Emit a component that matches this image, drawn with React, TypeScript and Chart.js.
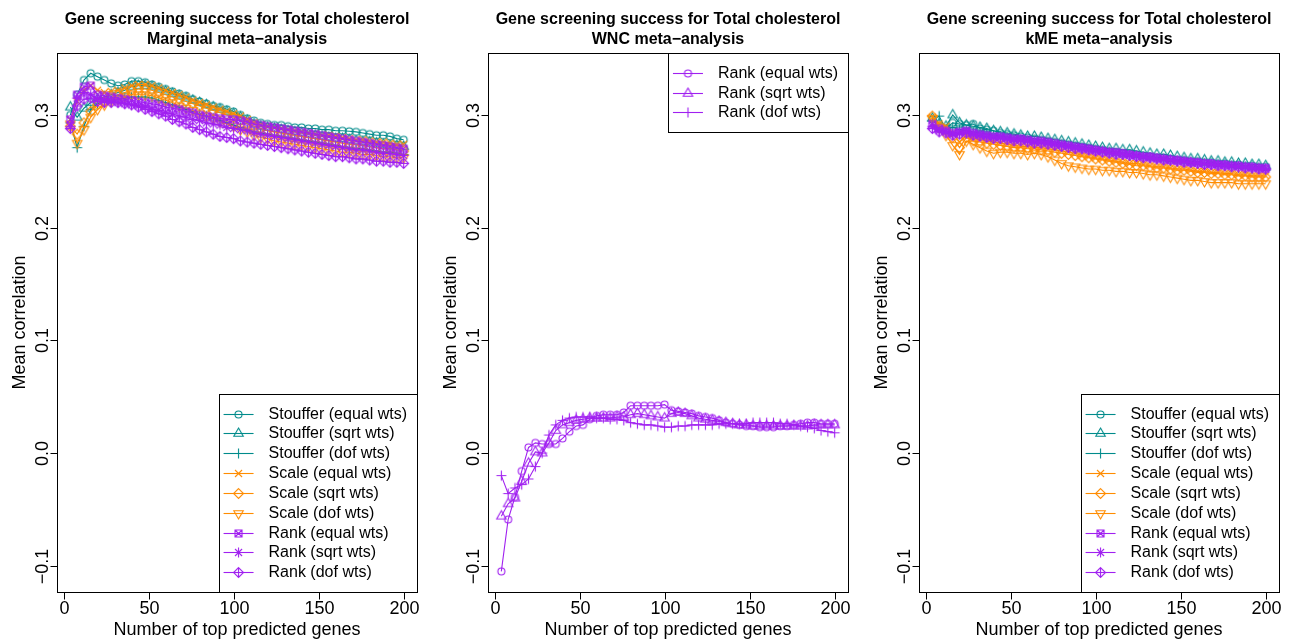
import React, { useEffect, useRef } from "react";
import { Chart, registerables } from "chart.js";
Chart.register(...registerables);

const W = 1309;
const H = 642;
const FONT = '"Liberation Sans", Arial, Helvetica, sans-serif';

// ---------- data ----------
const xValues = [4, 8, 12, 16, 20, 24, 28, 32, 36, 40, 44, 48, 52, 56, 60, 64, 68, 72, 76, 80, 84, 88, 92, 96, 100, 104, 108, 112, 116, 120, 124, 128, 132, 136, 140, 144, 148, 152, 156, 160, 164, 168, 172, 176, 180, 184, 188, 192, 196, 200];
const xTicks = [0, 50, 100, 150, 200];
const yTicks = [-0.1, 0, 0.1, 0.2, 0.3];
const yTickLabels = ["\u22120.1", "0.0", "0.1", "0.2", "0.3"];
const mainTitle = "Gene screening success for Total cholesterol";
const subTitles = ["Marginal meta\u2212analysis", "WNC meta\u2212analysis", "kME meta\u2212analysis"];
const xAxisTitle = "Number of top predicted genes";
const yAxisTitle = "Mean correlation";
const seriesLabels = ["Stouffer (equal wts)", "Stouffer (sqrt wts)", "Stouffer (dof wts)", "Scale (equal wts)", "Scale (sqrt wts)", "Scale (dof wts)", "Rank (equal wts)", "Rank (sqrt wts)", "Rank (dof wts)"];
const seriesShapes = ["circle", "triUp", "plus", "cross", "diamond", "triDown", "squareX", "asterisk", "diamondPlus"];
const wncLabels = ["Rank (equal wts)", "Rank (sqrt wts)", "Rank (dof wts)"];
const wncShapes = ["circle", "triUp", "plus"];
const TEAL = "#008B8B";
const ORANGE = "#FF8C00";
const PURPLE = "#A020F0";
const seriesColors = [TEAL, TEAL, TEAL, ORANGE, ORANGE, ORANGE, PURPLE, PURPLE, PURPLE];
const wncColors = [PURPLE, PURPLE, PURPLE];

// Marginal
const margStoufferEqual = [0.300,0.318,0.331,0.337,0.334,0.331,0.328,0.326,0.327,0.330, 0.330,0.329,0.327,0.325,0.323,0.321,0.319,0.317,0.314,0.312, 0.310,0.308,0.307,0.305,0.303,0.300,0.297,0.295,0.293,0.292, 0.291,0.291,0.290,0.289,0.289,0.288,0.288,0.287,0.287,0.286, 0.286,0.2855,0.285,0.284,0.283,0.282,0.282,0.281,0.279,0.278];
const margStoufferSqrt = [0.307,0.298,0.306,0.311,0.314,0.316,0.318,0.320,0.322,0.325, 0.326,0.326,0.325,0.323,0.321,0.319,0.317,0.315,0.313,0.311, 0.309,0.307,0.305,0.303,0.301,0.298,0.295,0.292,0.290,0.289, 0.288,0.287,0.286,0.285,0.284,0.283,0.282,0.281,0.280,0.279, 0.279,0.278,0.277,0.276,0.276,0.275,0.274,0.273,0.273,0.272];
const margStoufferDof = [0.293,0.271,0.290,0.305,0.310,0.312,0.313,0.314,0.315,0.316, 0.316,0.316,0.315,0.313,0.311,0.309,0.307,0.305,0.303,0.301, 0.299,0.297,0.295,0.293,0.291,0.289,0.287,0.285,0.284,0.283, 0.282,0.281,0.280,0.279,0.278,0.277,0.276,0.275,0.274,0.273, 0.272,0.271,0.270,0.270,0.269,0.268,0.267,0.267,0.266,0.265];
const margScaleEqual = [0.296,0.312,0.322,0.326,0.322,0.320,0.321,0.322,0.324,0.326, 0.327,0.327,0.326,0.324,0.322,0.320,0.318,0.316,0.313,0.311, 0.309,0.307,0.305,0.303,0.301,0.299,0.296,0.293,0.291,0.290, 0.289,0.288,0.287,0.286,0.285,0.284,0.283,0.282,0.282,0.281, 0.280,0.279,0.278,0.278,0.277,0.276,0.276,0.275,0.274,0.274];
const margScaleSqrt = [0.290,0.283,0.293,0.303,0.309,0.312,0.315,0.318,0.320,0.322, 0.323,0.323,0.322,0.320,0.318,0.316,0.314,0.312,0.310,0.308, 0.306,0.304,0.302,0.300,0.298,0.295,0.292,0.290,0.288,0.286, 0.285,0.284,0.283,0.282,0.281,0.280,0.279,0.278,0.277,0.276, 0.275,0.274,0.274,0.273,0.272,0.271,0.270,0.270,0.269,0.268];
const margScaleDof = [0.292,0.275,0.287,0.298,0.305,0.309,0.312,0.314,0.316,0.318, 0.318,0.318,0.317,0.315,0.313,0.311,0.308,0.306,0.304,0.301, 0.299,0.297,0.294,0.292,0.290,0.287,0.285,0.282,0.280,0.279, 0.277,0.276,0.275,0.274,0.273,0.272,0.271,0.270,0.269,0.268, 0.267,0.267,0.266,0.265,0.265,0.264,0.263,0.263,0.262,0.262];
const margRankEqual = [0.296,0.318,0.325,0.326,0.318,0.317,0.316,0.315,0.314,0.313, 0.312,0.311,0.310,0.309,0.307,0.306,0.305,0.303,0.302,0.300, 0.299,0.298,0.297,0.296,0.296,0.295,0.294,0.292,0.291,0.290, 0.289,0.288,0.287,0.286,0.285,0.284,0.283,0.282,0.281,0.280, 0.279,0.278,0.277,0.276,0.275,0.274,0.273,0.272,0.271,0.270];
const margRankSqrt = [0.290,0.315,0.320,0.318,0.314,0.313,0.312,0.311,0.310,0.309, 0.308,0.307,0.305,0.304,0.302,0.301,0.299,0.298,0.296,0.295, 0.293,0.292,0.291,0.289,0.288,0.287,0.286,0.284,0.283,0.282, 0.281,0.280,0.279,0.278,0.277,0.276,0.275,0.274,0.273,0.272, 0.271,0.270,0.269,0.269,0.268,0.267,0.266,0.266,0.265,0.264];
const margRankDof = [0.288,0.308,0.314,0.315,0.312,0.311,0.311,0.311,0.310,0.309, 0.307,0.305,0.303,0.301,0.299,0.296,0.294,0.292,0.289,0.287, 0.285,0.283,0.281,0.280,0.279,0.277,0.276,0.275,0.274,0.273, 0.272,0.271,0.270,0.269,0.268,0.267,0.266,0.265,0.264,0.263, 0.263,0.262,0.261,0.261,0.260,0.259,0.259,0.258,0.258,0.257];

// WNC
const wncRankEqual = [-0.105,-0.059,-0.039,-0.016,0.005,0.009,0.008,0.008,0.008,0.013, 0.019,0.024,0.025,0.030,0.033,0.034,0.034,0.034,0.036,0.042, 0.042,0.042,0.042,0.042,0.043,0.038,0.037,0.036,0.035,0.033, 0.032,0.031,0.029,0.027,0.026,0.025,0.024,0.024,0.023,0.023, 0.023,0.024,0.024,0.025,0.026,0.027,0.027,0.026,0.026,0.026];
const wncRankSqrt = [-0.056,-0.045,-0.040,-0.025,-0.009,0.001,0.000,0.009,0.020,0.025, 0.027,0.029,0.030,0.031,0.031,0.031,0.031,0.032,0.032,0.034, 0.035,0.034,0.033,0.032,0.031,0.035,0.036,0.035,0.033,0.031, 0.030,0.029,0.028,0.027,0.026,0.025,0.025,0.024,0.024,0.024, 0.024,0.024,0.024,0.024,0.024,0.024,0.025,0.025,0.025,0.025];
const wncRankDof = [-0.020,-0.036,-0.031,-0.028,-0.023,-0.012,0.000,0.016,0.025,0.029, 0.031,0.032,0.032,0.032,0.031,0.031,0.030,0.030,0.029,0.027, 0.026,0.025,0.025,0.024,0.023,0.023,0.024,0.024,0.025,0.025, 0.025,0.025,0.026,0.026,0.026,0.026,0.026,0.027,0.027,0.027, 0.027,0.026,0.026,0.025,0.024,0.023,0.022,0.020,0.019,0.018];

// kME
const kmeStoufferEqual = [0.296,0.290,0.288,0.293,0.292,0.291,0.292,0.288,0.287,0.286, 0.284,0.283,0.282,0.281,0.280,0.279,0.278,0.277,0.276,0.275, 0.274,0.273,0.272,0.271,0.270,0.269,0.268,0.267,0.266,0.266, 0.265,0.264,0.263,0.262,0.262,0.261,0.260,0.260,0.259,0.259, 0.258,0.258,0.257,0.257,0.256,0.256,0.255,0.255,0.254,0.254];
const kmeStoufferSqrt = [0.297,0.292,0.290,0.300,0.293,0.291,0.290,0.289,0.288,0.286, 0.285,0.284,0.283,0.282,0.281,0.281,0.280,0.279,0.278,0.277, 0.276,0.275,0.274,0.273,0.272,0.271,0.270,0.270,0.269,0.269, 0.268,0.267,0.266,0.265,0.265,0.264,0.263,0.262,0.261,0.261, 0.260,0.259,0.259,0.258,0.258,0.257,0.257,0.256,0.256,0.255];
const kmeStoufferDof = [0.295,0.299,0.287,0.289,0.287,0.286,0.285,0.284,0.283,0.282, 0.281,0.280,0.279,0.278,0.277,0.276,0.275,0.275,0.274,0.273, 0.272,0.271,0.270,0.269,0.268,0.267,0.266,0.265,0.265,0.264, 0.263,0.262,0.262,0.261,0.260,0.259,0.259,0.258,0.257,0.257, 0.256,0.256,0.255,0.255,0.254,0.253,0.253,0.252,0.252,0.251];
const kmeScaleEqual = [0.298,0.292,0.290,0.284,0.276,0.282,0.279,0.278,0.277,0.276, 0.275,0.274,0.273,0.272,0.272,0.271,0.271,0.270,0.269,0.268, 0.267,0.266,0.264,0.263,0.262,0.261,0.260,0.259,0.258,0.257, 0.257,0.256,0.255,0.254,0.254,0.253,0.252,0.252,0.251,0.250, 0.250,0.249,0.249,0.248,0.248,0.247,0.247,0.246,0.246,0.246];
const kmeScaleSqrt = [0.299,0.290,0.286,0.280,0.271,0.280,0.277,0.276,0.275,0.274, 0.273,0.272,0.271,0.271,0.270,0.270,0.269,0.268,0.267,0.266, 0.265,0.264,0.263,0.262,0.261,0.260,0.259,0.258,0.257,0.256, 0.255,0.255,0.254,0.253,0.253,0.252,0.251,0.251,0.250,0.249, 0.249,0.248,0.248,0.247,0.247,0.246,0.246,0.245,0.245,0.245];
const kmeScaleDof = [0.297,0.289,0.282,0.273,0.265,0.277,0.274,0.271,0.268,0.266, 0.267,0.267,0.266,0.266,0.265,0.266,0.265,0.263,0.260,0.257, 0.255,0.254,0.253,0.252,0.252,0.251,0.251,0.250,0.250,0.249, 0.249,0.248,0.247,0.247,0.246,0.245,0.244,0.243,0.242,0.242, 0.241,0.240,0.240,0.240,0.240,0.239,0.239,0.239,0.239,0.239];
const kmeRankEqual = [0.292,0.288,0.286,0.284,0.285,0.286,0.284,0.283,0.282,0.281, 0.281,0.280,0.279,0.279,0.278,0.277,0.277,0.276,0.275,0.274, 0.273,0.272,0.271,0.270,0.269,0.268,0.267,0.267,0.266,0.265, 0.264,0.263,0.263,0.262,0.261,0.260,0.260,0.259,0.258,0.258, 0.257,0.257,0.256,0.256,0.255,0.255,0.254,0.254,0.253,0.253];
const kmeRankSqrt = [0.290,0.286,0.285,0.283,0.284,0.285,0.283,0.282,0.281,0.280, 0.280,0.279,0.278,0.278,0.277,0.276,0.276,0.275,0.274,0.273, 0.272,0.271,0.270,0.269,0.268,0.268,0.267,0.266,0.265,0.264, 0.264,0.263,0.262,0.261,0.261,0.260,0.259,0.259,0.258,0.257, 0.257,0.256,0.256,0.255,0.255,0.254,0.254,0.253,0.253,0.252];
const kmeRankDof = [0.288,0.285,0.284,0.282,0.283,0.284,0.282,0.281,0.280,0.279, 0.279,0.278,0.277,0.277,0.276,0.275,0.275,0.274,0.273,0.272, 0.271,0.270,0.270,0.269,0.268,0.267,0.266,0.265,0.265,0.264, 0.263,0.262,0.262,0.261,0.260,0.260,0.259,0.258,0.258,0.257, 0.256,0.256,0.255,0.255,0.254,0.254,0.253,0.253,0.252,0.252];

const marginalSeries = [margStoufferEqual, margStoufferSqrt, margStoufferDof, margScaleEqual, margScaleSqrt, margScaleDof, margRankEqual, margRankSqrt, margRankDof];
const wncSeries = [wncRankEqual, wncRankSqrt, wncRankDof];
const kmeSeries = [kmeStoufferEqual, kmeStoufferSqrt, kmeStoufferDof, kmeScaleEqual, kmeScaleSqrt, kmeScaleDof, kmeRankEqual, kmeRankSqrt, kmeRankDof];

const X_MIN = -3.84;
const X_MAX = 207.84;
const Y_MIN = -0.1233;
const Y_MAX = 0.355;

type Panel = {
  left: number; right: number; top: number; bottom: number;
  sub: string; series: number[][]; labels: string[]; shapes: string[]; colors: string[];
  legend: "bottomright" | "topright";
};

const panels: Panel[] = [
  { left: 57, right: 417, top: 53, bottom: 592, sub: subTitles[0], series: marginalSeries, labels: seriesLabels, shapes: seriesShapes, colors: seriesColors, legend: "bottomright" },
  { left: 488, right: 848, top: 53, bottom: 592, sub: subTitles[1], series: wncSeries, labels: wncLabels, shapes: wncShapes, colors: wncColors, legend: "topright" },
  { left: 919, right: 1279, top: 53, bottom: 592, sub: subTitles[2], series: kmeSeries, labels: seriesLabels, shapes: seriesShapes, colors: seriesColors, legend: "bottomright" },
];

function makeMarker(shape: string, color: string): HTMLCanvasElement {
  const s = 17;
  const c = 8.5;
  const cv = document.createElement("canvas");
  cv.width = s;
  cv.height = s;
  const g = cv.getContext("2d")!;
  g.strokeStyle = color;
  g.lineWidth = 1.1;
  const R = 3.5;
  const S = Math.SQRT2 * R;
  g.beginPath();
  const tri = (dir: number) => {
    const r = 1.5551 * R, yc = 0.7776 * R, xc = 1.3468 * R;
    g.moveTo(c, c - dir * r);
    g.lineTo(c + xc, c + dir * yc);
    g.lineTo(c - xc, c + dir * yc);
    g.closePath();
  };
  const plus = (d: number) => { g.moveTo(c - d, c); g.lineTo(c + d, c); g.moveTo(c, c - d); g.lineTo(c, c + d); };
  const cross = (d: number) => { g.moveTo(c - d, c - d); g.lineTo(c + d, c + d); g.moveTo(c - d, c + d); g.lineTo(c + d, c - d); };
  const diamond = (d: number) => { g.moveTo(c, c - d); g.lineTo(c + d, c); g.lineTo(c, c + d); g.lineTo(c - d, c); g.closePath(); };
  switch (shape) {
    case "circle": g.arc(c, c, R, 0, Math.PI * 2); break;
    case "triUp": tri(1); break;
    case "triDown": tri(-1); break;
    case "plus": plus(S); break;
    case "cross": cross(R); break;
    case "diamond": diamond(S); break;
    case "squareX": g.rect(c - R, c - R, 2 * R, 2 * R); cross(R); break;
    case "asterisk": cross(R); plus(S); break;
    case "diamondPlus": diamond(S); plus(S); break;
  }
  g.stroke();
  return cv;
}

function PanelChart({ p }: { p: Panel }) {
  const ref = useRef<HTMLCanvasElement | null>(null);
  useEffect(() => {
    const canvas = ref.current;
    if (!canvas) return;
    const markers = p.shapes.map((s, j) => makeMarker(s, p.colors[j]));
    const n = p.series.length;
    const datasets = p.series.map((vals, j) => ({
      label: p.labels[j],
      data: xValues.map((x, i) => ({ x, y: vals[i] })),
      borderColor: p.colors[j],
      backgroundColor: "transparent",
      borderWidth: 1.1,
      pointStyle: markers[j] as any,
      pointRadius: 4,
      pointHoverRadius: 4,
      tension: 0,
      order: n - j,
    }));

    const decor = {
      id: "rdecor",
      afterDraw(chart: any) {
        const ctx: CanvasRenderingContext2D = chart.ctx;
        const xs = chart.scales.x;
        const ys = chart.scales.y;
        const { left, right, top, bottom } = p;
        ctx.save();
        ctx.strokeStyle = "#000";
        ctx.fillStyle = "#000";
        ctx.lineWidth = 1;
        ctx.strokeRect(left + 0.5, top + 0.5, right - left, bottom - top);
        ctx.font = `18px ${FONT}`;
        ctx.textAlign = "center";
        ctx.textBaseline = "alphabetic";
        xTicks.forEach((t) => {
          const px = Math.round(xs.getPixelForValue(t)) + 0.5;
          ctx.beginPath();
          ctx.moveTo(px, bottom + 0.5);
          ctx.lineTo(px, bottom + 7.5);
          ctx.stroke();
          ctx.fillText(String(t), px, 614);
        });
        yTicks.forEach((t, i) => {
          const py = Math.round(ys.getPixelForValue(t)) + 0.5;
          ctx.beginPath();
          ctx.moveTo(left + 0.5, py);
          ctx.lineTo(left - 6.5, py);
          ctx.stroke();
          ctx.save();
          ctx.translate(left - 9.5, py);
          ctx.rotate(-Math.PI / 2);
          ctx.textAlign = "center";
          ctx.textBaseline = "alphabetic";
          ctx.fillText(yTickLabels[i], 0, 0);
          ctx.restore();
        });
        const cx = (left + right) / 2;
        ctx.textAlign = "center";
        ctx.fillText(xAxisTitle, cx, 635);
        ctx.save();
        ctx.translate(left - 32, (top + bottom) / 2);
        ctx.rotate(-Math.PI / 2);
        ctx.fillText(yAxisTitle, 0, 0);
        ctx.restore();
        ctx.font = `bold 16px ${FONT}`;
        ctx.fillText(mainTitle, cx, 24);
        ctx.fillText(p.sub, cx, 44);
        // legend
        ctx.font = `16px ${FONT}`;
        const labels = p.labels;
        const maxW = Math.max(...labels.map((l) => ctx.measureText(l).width));
        const rowH = 19.83;
        const bw = 50 + maxW + 10;
        const bh = (labels.length + 1) * rowH;
        const bx = right - bw;
        const by = p.legend === "bottomright" ? bottom - bh : top;
        ctx.fillStyle = "#fff";
        ctx.fillRect(bx, by, bw, bh);
        ctx.strokeStyle = "#000";
        ctx.strokeRect(Math.round(bx) + 0.5, Math.round(by) + 0.5, Math.round(bw), Math.round(bh));
        ctx.textAlign = "left";
        ctx.textBaseline = "middle";
        labels.forEach((l, j) => {
          const ry = Math.round(by + rowH * (j + 1)) + 0.5;
          ctx.strokeStyle = p.colors[j];
          ctx.lineWidth = 1.1;
          ctx.beginPath();
          ctx.moveTo(bx + 5, ry);
          ctx.lineTo(bx + 35, ry);
          ctx.stroke();
          ctx.drawImage(markers[j], bx + 20 - 8.5, ry - 8.5);
          ctx.fillStyle = "#000";
          ctx.fillText(l, bx + 50, ry + 0.5);
        });
        ctx.restore();
      },
    };

    const chart = new Chart(canvas, {
      type: "line",
      data: { datasets: datasets as any },
      options: {
        responsive: false,
        animation: false,
        devicePixelRatio: 1,
        events: [],
        layout: { padding: { left: p.left, right: W - p.right, top: p.top, bottom: H - p.bottom } },
        plugins: { legend: { display: false }, tooltip: { enabled: false }, title: { display: false } },
        scales: {
          x: { type: "linear", min: X_MIN, max: X_MAX, display: false },
          y: { type: "linear", min: Y_MIN, max: Y_MAX, display: false },
        },
      },
      plugins: [decor],
    });
    return () => chart.destroy();
  }, [p]);
  return (
    <canvas
      ref={ref}
      width={W}
      height={H}
      style={{ position: "absolute", left: 0, top: 0, width: W, height: H }}
    />
  );
}

export default function App() {
  return (
    <div style={{ position: "absolute", left: 0, top: 0, width: W, height: H, background: "#fff", overflow: "hidden" }}>
      {panels.map((p, i) => (
        <PanelChart key={i} p={p} />
      ))}
    </div>
  );
}
